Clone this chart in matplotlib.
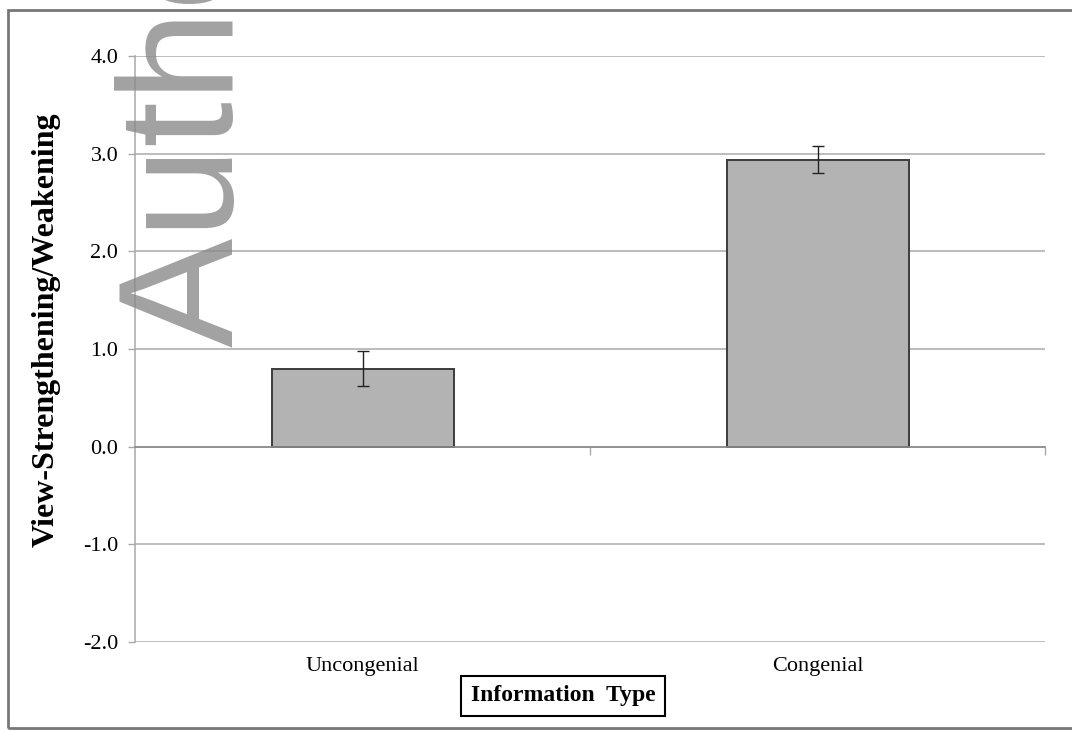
import matplotlib
matplotlib.use("Agg")
import matplotlib.pyplot as plt
from matplotlib.patches import Rectangle

# data
categories = ["Uncongenial", "Congenial"]
means = [0.80, 2.94]
errors = [0.175, 0.135]
yticks = [-2.0, -1.0, 0.0, 1.0, 2.0, 3.0, 4.0]

serif = ["Liberation Serif", "DejaVu Serif"]
W, H = 1072, 730

fig = plt.figure(figsize=(W / 100, H / 100), dpi=100)
ax = fig.add_axes([135 / W, 1 - 642 / H, 910 / W, 586 / H])

grid_c = "#a9a9a9"
x = list(range(len(categories)))
ax.bar(x, means, width=0.4, color="#b3b3b3", edgecolor="#3c3c3c",
       linewidth=1.4, zorder=3)
ax.errorbar(x, means, yerr=errors, fmt="none", ecolor="#222222",
            elinewidth=1.0, capsize=4.5, capthick=1.0, zorder=4)

ax.set_xlim(-0.5, len(categories) - 0.5)
ax.set_ylim(yticks[0], yticks[-1])
ax.set_yticks(yticks)
ax.set_yticklabels([f"{v:.1f}" for v in yticks], fontfamily=serif, fontsize=16)
ax.set_xticks(x)
ax.set_xticklabels(categories, fontfamily=serif, fontsize=16)
ax.tick_params(axis="x", length=0, pad=11)
ax.tick_params(axis="y", length=5, width=1.0, color=grid_c, pad=7)

for sp in ["top", "right", "bottom"]:
    ax.spines[sp].set_visible(False)
ax.spines["left"].set_color(grid_c)
ax.spines["left"].set_linewidth(1.1)

ax.yaxis.grid(True, color=grid_c, linewidth=1.1, zorder=0)
ax.set_axisbelow(True)

# category axis crossing at zero
secax = ax.secondary_xaxis((0 - yticks[0]) / (yticks[-1] - yticks[0]))
secax.set_xticks([i + 0.5 for i in x])
secax.set_xticklabels([])
secax.tick_params(length=6, width=1.0, color=grid_c)
secax.spines["bottom"].set_color("#8c8c8c")
secax.spines["bottom"].set_linewidth(1.2)
secax.set_zorder(5)

fig.text(46 / W, 1 - 330 / H, "View-Strengthening/Weakening", rotation=90,
         ha="center", va="center", fontfamily=serif, fontsize=23,
         fontweight="bold")
fig.text(563 / W, 1 - 696 / H, "Information  Type", ha="center", va="center",
         fontfamily=serif, fontsize=17, fontweight="bold",
         bbox=dict(boxstyle="square,pad=0.4", facecolor="white",
                   edgecolor="black", linewidth=1.5))

# watermark
fig.text(233 / W, 1 - 347 / H, "Author Manuscript", rotation=90,
         rotation_mode="anchor", ha="left", va="baseline",
         fontfamily=["Liberation Sans", "DejaVu Sans"], fontsize=118,
         color="#8a8a8a", alpha=0.8, zorder=10)

# outer frame
fig.patches.append(Rectangle((8 / W, 1 - 728 / H), 1.05, 718 / H,
                             transform=fig.transFigure, fill=False,
                             edgecolor="#777777", linewidth=2))

fig.savefig("out.png", dpi=100)
